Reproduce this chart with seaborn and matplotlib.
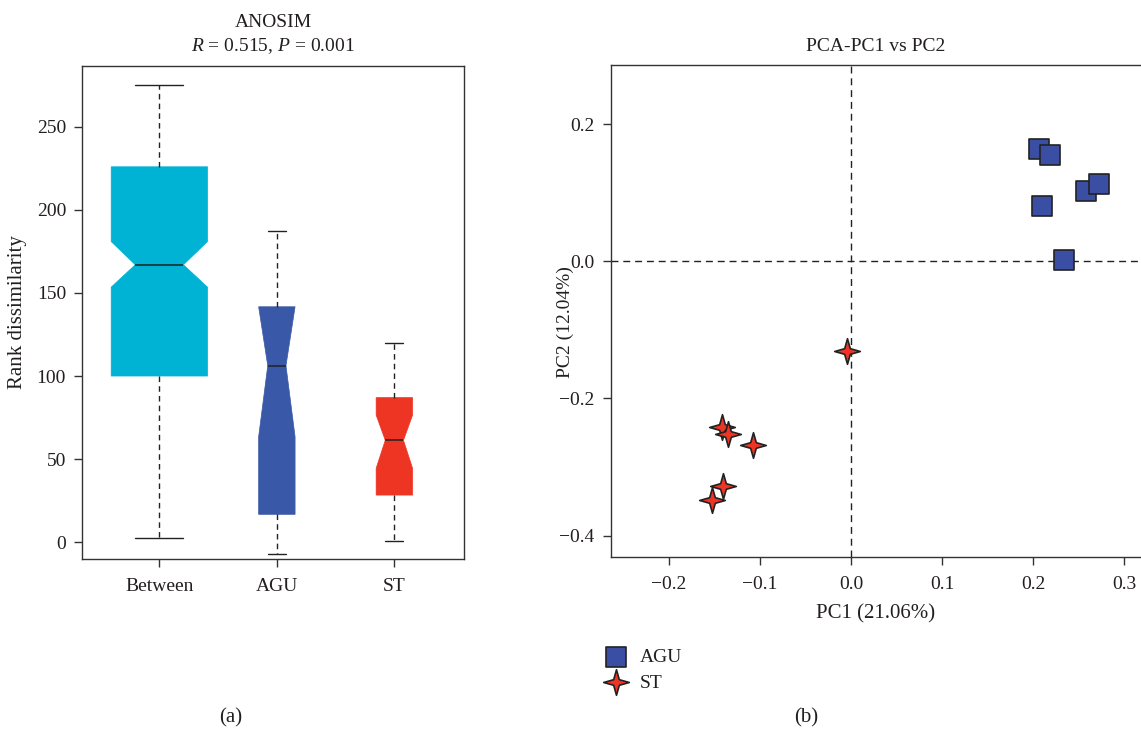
import numpy as np
import pandas as pd
import matplotlib
matplotlib.use('Agg')
import matplotlib.pyplot as plt
from matplotlib.path import Path
import seaborn as sns

# ---- panel (a): ANOSIM box summary ----
groups = ['Between', 'AGU', 'ST']
whisker_low = [2.6, -7.2, 0.8]
q1 = [100.0, 16.7, 28.3]
median = [167.0, 106.2, 61.3]
q3 = [226.0, 141.7, 87.0]
whisker_high = [275.5, 187.2, 119.9]
notch_low = [153.5, 63.4, 44.4]
notch_high = [181.0, 141.7, 76.5]
box_colors = ['#00B2D3', '#3A58A8', '#EE3524']

# ---- panel (b): PCA scores ----
agu_pc1 = [0.206, 0.218, 0.258, 0.272, 0.210, 0.234]
agu_pc2 = [0.163, 0.155, 0.102, 0.113, 0.080, 0.002]
st_pc1 = [-0.004, -0.142, -0.135, -0.108, -0.141, -0.153]
st_pc2 = [-0.131, -0.242, -0.252, -0.268, -0.327, -0.348]

sns.set_style('ticks')
plt.rcParams['font.family'] = ['Liberation Serif', 'DejaVu Serif']
plt.rcParams['mathtext.fontset'] = 'custom'
plt.rcParams['mathtext.rm'] = 'Liberation Serif'
plt.rcParams['mathtext.it'] = 'Liberation Serif:italic'
plt.rcParams['axes.unicode_minus'] = True
plt.rcParams['axes.edgecolor'] = '#333333'
plt.rcParams['xtick.color'] = '#333333'
plt.rcParams['ytick.color'] = '#333333'
plt.rcParams['text.color'] = '#231F20'
plt.rcParams['axes.labelcolor'] = '#231F20'
plt.rcParams['xtick.labelcolor'] = '#231F20'
plt.rcParams['ytick.labelcolor'] = '#231F20'

fig = plt.figure(figsize=(11.41, 7.40), dpi=100)
ax1 = fig.add_axes([0.0719, 0.2446, 0.3348, 0.6662])
ax2 = fig.add_axes([0.5352, 0.2469, 0.4639, 0.6649])

# box plot from summary stats
stats = []
for i, g in enumerate(groups):
    stats.append(dict(label=g, whislo=whisker_low[i], q1=q1[i], med=median[i], q3=q3[i],
                      whishi=whisker_high[i], cilo=notch_low[i], cihi=notch_high[i], fliers=[]))
widths = [0.82, 0.31, 0.31]
bp = ax1.bxp(stats, positions=[1, 2, 3], widths=widths, shownotches=True, patch_artist=True,
             showfliers=False,
             whiskerprops=dict(color='#222222', linestyle=(0, (4, 3)), linewidth=1),
             capprops=dict(color='#222222', linewidth=1),
             medianprops=dict(color='#222222', linewidth=1.1))
for patch, c in zip(bp['boxes'], box_colors):
    patch.set_facecolor(c)
    patch.set_edgecolor(c)
    patch.set_linewidth(0.5)

ax1.set_xlim(0.342, 3.593)
ax1.set_ylim(-10.2, 286.7)
ax1.set_yticks([0, 50, 100, 150, 200, 250])
ax1.set_ylabel('Rank dissimilarity', fontsize=15)
ax1.yaxis.set_label_coords(-0.144, 0.5)
ax1.set_title('ANOSIM\n$R$ = 0.515, $P$ = 0.001', fontsize=14, pad=11, linespacing=1.35)
ax1.tick_params(labelsize=14, length=5.5, width=1, direction='out')
ax1.tick_params(axis='x', pad=8)
ax1.tick_params(axis='y', pad=6)
for s in ax1.spines.values():
    s.set_linewidth(1)

# PCA scatter
star = Path([(0, 1), (0.22, 0.22), (1, 0), (0.22, -0.22), (0, -1), (-0.22, -0.22), (-1, 0), (-0.22, 0.22), (0, 1)],
            [Path.MOVETO] + [Path.LINETO] * 7 + [Path.CLOSEPOLY])
ax2.axvline(0, color='#222222', linestyle=(0, (5, 3.5)), linewidth=1, zorder=1)
ax2.axhline(0, color='#222222', linestyle=(0, (5, 3.5)), linewidth=1, zorder=1)
sns.scatterplot(x=agu_pc1, y=agu_pc2, ax=ax2, marker='s', s=210, color='#3A4FA3',
                edgecolor='#222222', linewidth=1.2, label='AGU', zorder=3)
sns.scatterplot(x=st_pc1, y=st_pc2, ax=ax2, marker=star, s=340, color='#EE3524',
                edgecolor='#222222', linewidth=1.2, label='ST', zorder=3)
ax2.set_xlim(-0.264, 0.3173)
ax2.set_ylim(-0.4315, 0.2857)
ax2.set_xticks([-0.2, -0.1, 0.0, 0.1, 0.2, 0.3])
ax2.set_yticks([-0.4, -0.2, 0.0, 0.2])
ax2.set_xlabel('PC1 (21.06%)', fontsize=15, labelpad=8)
ax2.set_ylabel('PC2 (12.04%)', fontsize=14)
ax2.yaxis.set_label_coords(-0.07, 0.478)
ax2.set_title('PCA-PC1 vs PC2', fontsize=14, pad=10)
ax2.tick_params(labelsize=14, length=5.5, width=1, direction='out')
ax2.tick_params(axis='x', pad=8)
ax2.tick_params(axis='y', pad=6)
ax2.spines['right'].set_visible(False)
for s in ax2.spines.values():
    s.set_linewidth(1)

handles, labels = ax2.get_legend_handles_labels()
ax2.get_legend().remove()
fig.legend(handles, labels, loc='upper left', bbox_to_anchor=(587 / 1141, 1 - 631 / 740),
           frameon=False, fontsize=14, handletextpad=0.6, labelspacing=0.4, handlelength=1.2)

fig.text(231 / 1141, 1 - 718 / 740, '(a)', ha='center', va='center', fontsize=15)
fig.text(806 / 1141, 1 - 718 / 740, '(b)', ha='center', va='center', fontsize=15)

fig.savefig('out.png', dpi=100)
